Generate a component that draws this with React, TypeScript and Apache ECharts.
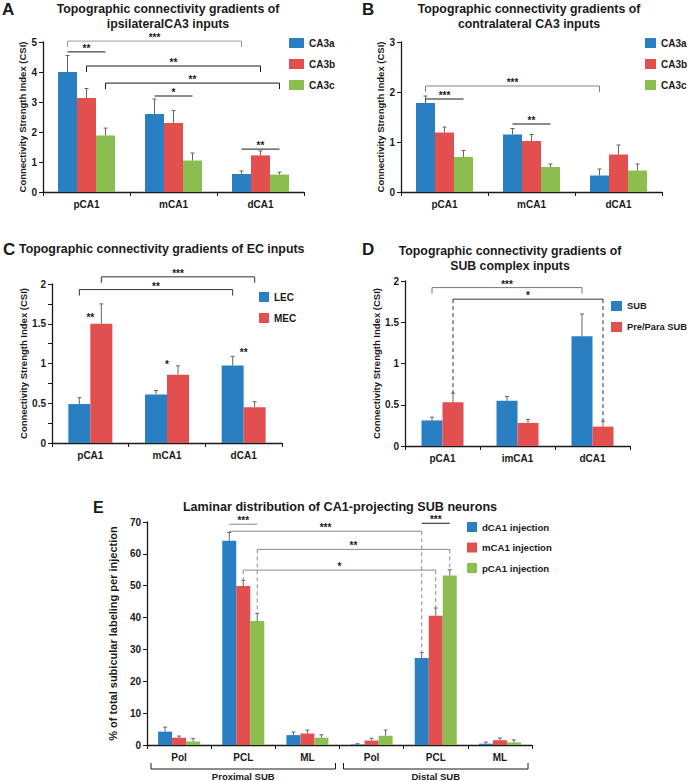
import React, { useEffect, useRef } from 'react';
import * as echarts from 'echarts';

const FONT = '"Liberation Sans", Arial, Helvetica, sans-serif';
const BLUE = '#2a7fc2';
const RED = '#e14f4f';
const GREEN = '#8cbd4f';
const INK = '#1a1a1a';
const ERR = '#666666';

// ---------------- Panel A ----------------
const aCategories = ['pCA1', 'mCA1', 'dCA1'];
const aSeries = ['CA3a', 'CA3b', 'CA3c'];
const aMeans = [
  [4.0, 2.6, 0.6],
  [3.13, 2.3, 1.22],
  [1.88, 1.05, 0.58],
];
const aErrTops = [
  [4.55, 3.1, 0.7],
  [3.45, 2.72, 1.37],
  [2.13, 1.3, 0.66],
];
// [fromCategory, fromSeries, toCategory, toSeries, level, kind] kind: 0 bracket, 1 line, 2 dashed drops
const aBrackets = [
  [0, 0, 2, 0, 5.03, 0],
  [0, 0, 0, 2, 4.67, 1],
  [0, 1, 2, 1, 4.2, 0],
  [0, 2, 2, 2, 3.63, 0],
  [1, 0, 1, 2, 3.2, 1],
  [2, 0, 2, 2, 1.43, 1],
];
const aBracketLabels = ['***', '**', '**', '**', '*', '**'];

// ---------------- Panel B ----------------
const bCategories = ['pCA1', 'mCA1', 'dCA1'];
const bSeries = ['CA3a', 'CA3b', 'CA3c'];
const bMeans = [
  [1.78, 1.15, 0.33],
  [1.19, 1.02, 0.75],
  [0.7, 0.5, 0.43],
];
const bErrTops = [
  [1.92, 1.27, 0.46],
  [1.3, 1.15, 0.94],
  [0.83, 0.56, 0.56],
];
const bBrackets = [
  [0, 0, 2, 0, 2.12, 0],
  [0, 0, 0, 2, 1.86, 1],
  [1, 0, 1, 2, 1.36, 1],
];
const bBracketLabels = ['***', '***', '**'];

// ---------------- Panel C ----------------
const cCategories = ['pCA1', 'mCA1', 'dCA1'];
const cSeries = ['LEC', 'MEC'];
const cMeans = [
  [0.49, 0.61, 0.975],
  [1.5, 0.86, 0.45],
];
const cErrTops = [
  [0.57, 0.66, 1.09],
  [1.75, 0.97, 0.52],
];
const cBrackets = [
  [0, 1, 2, 1, 2.09, 0],
  [0, 0, 2, 0, 1.93, 0],
];
const cBracketLabels = ['***', '**'];
const cStars = [
  [0, 1.58],
  [1, 0.99],
  [2, 1.14],
];
const cStarLabels = ['**', '*', '**'];

// ---------------- Panel D ----------------
const dCategories = ['pCA1', 'imCA1', 'dCA1'];
const dSeries = ['SUB', 'Pre/Para SUB'];
const dMeans = [
  [0.31, 0.55, 1.33],
  [0.53, 0.28, 0.235],
];
const dErrTops = [
  [0.35, 0.6, 1.6],
  [0.64, 0.32, 0.3],
];
const dBrackets = [
  [0, 0, 2, 0, 1.92, 0],
  [0, 1, 2, 1, 1.78, 2],
];
const dBracketLabels = ['***', '*'];

// ---------------- Panel E ----------------
const eCategories = ['Pol', 'PCL', 'ML', 'Pol', 'PCL', 'ML'];
const eSeries = ['dCA1 injection', 'mCA1 injection', 'pCA1 injection'];
const eMeans = [
  [4.2, 64.1, 3.1, 0.15, 27.3, 0.4],
  [2.3, 49.9, 3.6, 1.4, 40.6, 1.5],
  [1.1, 38.9, 2.3, 2.9, 53.2, 0.8],
];
const eErrTops = [
  [5.6, 66.7, 4.1, 0.4, 29.0, 0.9],
  [2.8, 51.7, 4.7, 2.1, 43.0, 2.2],
  [2.0, 41.3, 3.2, 4.7, 55.0, 1.6],
];
const eBrackets = [
  [1, 0, 1, 2, 69.3, 1],
  [1, 0, 4, 0, 67.1, 2],
  [1, 2, 4, 2, 61.4, 2],
  [1, 1, 4, 1, 54.9, 2],
  [4, 0, 4, 2, 69.6, 1],
];
const eBracketLabels = ['***', '***', '**', '*', '***'];
const eGroups = [
  [0, 2],
  [3, 5],
];
const eGroupLabels = ['Proximal SUB', 'Distal SUB'];

// ---------------- styles (kept apart from data) ----------------
const aTones = ['#9a9a9a', INK, INK, INK, INK, INK];
const bTones = ['#808080', INK, INK];
const cTones = ['#333', '#333'];
const dTones = ['#777', '#333'];
const eTones = ['#8a8a8a', '#8a8a8a', '#8a8a8a', '#8a8a8a', INK];

type Panel = {
  categories: string[];
  series: string[];
  colors: string[];
  means: number[][];
  errTops: number[][];
  brackets: number[][];
  bracketLabels: string[];
  tones: string[];
  stars?: number[][];
  starLabels?: string[];
  groups?: number[][];
  groupLabels?: string[];
  yMax: number;
  yInterval: number;
  labelStep: number;
  grid: { left: number; top: number; width: number; height: number };
  barWidth: number;
  yName: string;
  nameGap: number;
  nameSize: number;
  tickSize: number;
  labelSize: number;
};

const CSI = 'Connectivity Strength Index (CSI)';

const panels: Panel[] = [
  {
    categories: aCategories, series: aSeries, colors: [BLUE, RED, GREEN],
    means: aMeans, errTops: aErrTops, brackets: aBrackets, bracketLabels: aBracketLabels, tones: aTones,
    yMax: 5, yInterval: 1, labelStep: 1,
    grid: { left: 43, top: 42, width: 261, height: 150 }, barWidth: 19,
    yName: CSI, nameGap: 15, nameSize: 9.5, tickSize: 10, labelSize: 10,
  },
  {
    categories: bCategories, series: bSeries, colors: [BLUE, RED, GREEN],
    means: bMeans, errTops: bErrTops, brackets: bBrackets, bracketLabels: bBracketLabels, tones: bTones,
    yMax: 3, yInterval: 1, labelStep: 1,
    grid: { left: 401, top: 42, width: 261, height: 150 }, barWidth: 19,
    yName: CSI, nameGap: 14, nameSize: 9.5, tickSize: 10, labelSize: 10,
  },
  {
    categories: cCategories, series: cSeries, colors: [BLUE, RED],
    means: cMeans, errTops: cErrTops, brackets: cBrackets, bracketLabels: cBracketLabels, tones: cTones,
    stars: cStars, starLabels: cStarLabels,
    yMax: 2, yInterval: 0.25, labelStep: 0.5,
    grid: { left: 52, top: 284, width: 230, height: 159 }, barWidth: 22,
    yName: CSI, nameGap: 21, nameSize: 9.5, tickSize: 10, labelSize: 10,
  },
  {
    categories: dCategories, series: dSeries, colors: [BLUE, RED],
    means: dMeans, errTops: dErrTops, brackets: dBrackets, bracketLabels: dBracketLabels, tones: dTones,
    yMax: 2, yInterval: 0.5, labelStep: 0.5,
    grid: { left: 405, top: 281, width: 225, height: 165 }, barWidth: 21,
    yName: CSI, nameGap: 20, nameSize: 9.5, tickSize: 10, labelSize: 10,
  },
  {
    categories: eCategories, series: eSeries, colors: [BLUE, RED, GREEN],
    means: eMeans, errTops: eErrTops, brackets: eBrackets, bracketLabels: eBracketLabels, tones: eTones,
    groups: eGroups, groupLabels: eGroupLabels,
    yMax: 70, yInterval: 10, labelStep: 10,
    grid: { left: 147, top: 522, width: 385, height: 223 }, barWidth: 14,
    yName: '% of total subicular labeling per injection', nameGap: 21, nameSize: 11,
    tickSize: 10, labelSize: 9.5,
  },
];

const legends = [
  { names: aSeries, left: 289, top: 37, itemWidth: 15, itemHeight: 10, itemGap: 9, size: 10 },
  { names: bSeries, left: 645, top: 37, itemWidth: 11, itemHeight: 10, itemGap: 9, size: 10 },
  { names: cSeries, left: 259, top: 291, itemWidth: 10, itemHeight: 10, itemGap: 9, size: 10 },
  { names: dSeries, left: 611, top: 300, itemWidth: 11, itemHeight: 10, itemGap: 9, size: 9.3 },
  { names: eSeries, left: 467, top: 521, itemWidth: 10, itemHeight: 10, itemGap: 8.5, size: 9.6 },
];

function offsetOf(p: Panel, s: number) {
  return (s - (p.series.length - 1) / 2) * p.barWidth;
}

function errorRender(p: Panel) {
  return (_params: any, api: any) => {
    const cat = api.value(0);
    const s = api.value(1);
    const base = api.coord([cat, api.value(2)]);
    const top = api.coord([cat, api.value(3)]);
    const x = base[0] + offsetOf(p, s);
    return {
      type: 'group',
      children: [
        { type: 'line', shape: { x1: x, y1: base[1], x2: x, y2: top[1] }, style: { stroke: ERR, lineWidth: 1 } },
        { type: 'line', shape: { x1: x - 2, y1: top[1], x2: x + 2, y2: top[1] }, style: { stroke: ERR, lineWidth: 1 } },
      ],
    };
  };
}

function bracketRender(p: Panel) {
  return (params: any, api: any) => {
    const fc = api.value(0), fs = api.value(1), tc = api.value(2), ts = api.value(3);
    const level = api.value(4), kind = api.value(5);
    const tone = p.tones[params.dataIndex];
    const a = api.coord([fc, level]);
    const b = api.coord([tc, level]);
    const x1 = a[0] + offsetOf(p, fs);
    const x2 = b[0] + offsetOf(p, ts);
    const y = a[1];
    const children: any[] = [
      { type: 'line', shape: { x1, y1: y, x2, y2: y }, style: { stroke: tone, lineWidth: 1 } },
    ];
    if (kind === 0) {
      children.push({ type: 'line', shape: { x1, y1: y, x2: x1, y2: y + 6 }, style: { stroke: tone, lineWidth: 1 } });
      children.push({ type: 'line', shape: { x1: x2, y1: y, x2, y2: y + 6 }, style: { stroke: tone, lineWidth: 1 } });
    } else if (kind === 2) {
      const ya = api.coord([fc, p.errTops[fs][fc]])[1];
      const yb = api.coord([tc, p.errTops[ts][tc]])[1];
      children.push({ type: 'line', shape: { x1, y1: y, x2: x1, y2: ya }, style: { stroke: tone, lineWidth: 1, lineDash: [4, 3] } });
      children.push({ type: 'line', shape: { x1: x2, y1: y, x2, y2: yb }, style: { stroke: tone, lineWidth: 1, lineDash: [4, 3] } });
    }
    children.push({
      type: 'text',
      x: (x1 + x2) / 2,
      y: y + 1,
      style: {
        text: p.bracketLabels[params.dataIndex], fill: INK, fontSize: 10, fontWeight: 'bold', fontFamily: FONT,
        align: 'center', verticalAlign: 'bottom', lineHeight: 9,
      },
    });
    return { type: 'group', children };
  };
}

function starRender(p: Panel) {
  return (params: any, api: any) => {
    const pt = api.coord([api.value(0), api.value(1)]);
    return {
      type: 'text', x: pt[0], y: pt[1],
      style: {
        text: (p.starLabels || [])[params.dataIndex], fill: INK, fontSize: 10, fontWeight: 'bold', fontFamily: FONT,
        align: 'center', verticalAlign: 'middle', lineHeight: 9,
      },
    };
  };
}

function groupRender(p: Panel) {
  return (params: any, api: any) => {
    const band = api.size([1, 0])[0];
    const l = api.coord([api.value(0), 0]);
    const r = api.coord([api.value(1), 0]);
    const x1 = l[0] - band / 2 + 4;
    const x2 = r[0] + band / 2 - 4;
    const y = l[1] + 24;
    return {
      type: 'group',
      children: [
        { type: 'line', shape: { x1, y1: y, x2, y2: y }, style: { stroke: INK, lineWidth: 1 } },
        { type: 'line', shape: { x1, y1: y - 6, x2: x1, y2: y }, style: { stroke: INK, lineWidth: 1 } },
        { type: 'line', shape: { x1: x2, y1: y - 6, x2, y2: y }, style: { stroke: INK, lineWidth: 1 } },
        {
          type: 'text', x: (x1 + x2) / 2, y: y + 7,
          style: {
            text: (p.groupLabels || [])[params.dataIndex], fill: INK, fontSize: p.labelSize, fontWeight: 'bold',
            fontFamily: FONT, align: 'center', verticalAlign: 'middle', lineHeight: 10,
          },
        },
      ],
    };
  };
}

function isStep(v: number, step: number) {
  const r = v / step;
  return Math.abs(r - Math.round(r)) < 1e-6;
}

function buildOption() {
  const grid: any[] = [];
  const xAxis: any[] = [];
  const yAxis: any[] = [];
  const series: any[] = [];
  panels.forEach((p, i) => {
    grid.push({ ...p.grid, containLabel: false });
    xAxis.push({
      gridIndex: i, type: 'category', data: p.categories,
      axisLine: { show: true, lineStyle: { color: INK, width: 1.3 } },
      axisTick: { show: true, length: 4, lineStyle: { color: INK, width: 1 } },
      axisLabel: { interval: 0, fontFamily: FONT, fontSize: p.tickSize, fontWeight: 'bold', color: INK, margin: 7 },
    });
    yAxis.push({
      gridIndex: i, type: 'value', min: 0, max: p.yMax, interval: p.yInterval,
      axisLine: { show: true, lineStyle: { color: INK, width: 1.3 } },
      axisTick: { show: true, length: 4, lineStyle: { color: INK, width: 1 } },
      splitLine: { show: false },
      axisLabel: {
        fontFamily: FONT, fontSize: p.tickSize, fontWeight: 'bold', color: INK, margin: 6,
        formatter: (v: number) => (isStep(v, p.labelStep) ? String(v) : ''),
      },
      name: p.yName, nameLocation: 'middle', nameGap: p.nameGap,
      nameTextStyle: { fontFamily: FONT, fontSize: p.nameSize, fontWeight: 'bold', color: INK },
    });
    p.series.forEach((name, s) => {
      series.push({
        type: 'bar', name, xAxisIndex: i, yAxisIndex: i, data: p.means[s],
        barWidth: p.barWidth, barGap: '0%', itemStyle: { color: p.colors[s] }, z: 2,
      });
    });
    const errData: number[][] = [];
    p.series.forEach((_n, s) =>
      p.categories.forEach((_c, c) => errData.push([c, s, p.means[s][c], p.errTops[s][c]]))
    );
    series.push({
      type: 'custom', xAxisIndex: i, yAxisIndex: i, data: errData, encode: { x: 0, y: [2, 3] },
      renderItem: errorRender(p), z: 3, silent: true, clip: false,
    });
    series.push({
      type: 'custom', xAxisIndex: i, yAxisIndex: i, data: p.brackets, encode: { x: 0, y: 4 },
      renderItem: bracketRender(p), z: 4, silent: true, clip: false,
    });
    if (p.stars) {
      series.push({
        type: 'custom', xAxisIndex: i, yAxisIndex: i, data: p.stars, encode: { x: 0, y: 1 },
        renderItem: starRender(p), z: 4, silent: true, clip: false,
      });
    }
    if (p.groups) {
      series.push({
        type: 'custom', xAxisIndex: i, yAxisIndex: i, data: p.groups, encode: { x: [0, 1] },
        renderItem: groupRender(p), z: 4, silent: true, clip: false,
      });
    }
  });

  const legend = legends.map((l) => ({
    data: l.names, left: l.left, top: l.top, orient: 'vertical', icon: 'rect',
    itemWidth: l.itemWidth, itemHeight: l.itemHeight, itemGap: l.itemGap, padding: 0,
    selectedMode: false,
    textStyle: { fontFamily: FONT, fontSize: l.size, fontWeight: 'bold', color: INK, lineHeight: 12 },
  }));

  const txt = (text: string, x: number, y: number, size: number, align: string, lh = 15) => ({
    type: 'text', x, y, silent: true,
    style: { text, fontSize: size, fontWeight: 'bold', fontFamily: FONT, fill: INK, align, verticalAlign: 'middle', lineHeight: lh },
  });

  const graphic = [
    txt('A', 2, 9, 17, 'left'),
    txt('Topographic connectivity gradients of\nipsilateralCA3 inputs', 168, 16, 12.3, 'center'),
    txt('B', 362, 9, 17, 'left'),
    txt('Topographic connectivity gradients of\ncontralateral CA3 inputs', 529, 16, 12.3, 'center'),
    txt('C', 3, 249, 17, 'left'),
    txt('Topographic connectivity gradients of EC inputs', 19, 249, 12.4, 'left'),
    txt('D', 362, 249, 17, 'left'),
    txt('Topographic connectivity gradients of\nSUB complex inputs', 510, 258, 12.3, 'center'),
    txt('E', 93, 507, 16, 'left'),
    txt('Laminar distribution of CA1-projecting SUB neurons', 340, 507, 12.6, 'center', 13),
  ];

  return {
    animation: false,
    backgroundColor: '#ffffff',
    textStyle: { fontFamily: FONT },
    grid, xAxis, yAxis, series, legend, graphic,
  };
}

export default function App() {
  const ref = useRef<HTMLDivElement>(null);
  useEffect(() => {
    if (!ref.current) return;
    const chart = echarts.init(ref.current, null, { renderer: 'svg' });
    chart.setOption(buildOption() as any);
    return () => chart.dispose();
  }, []);
  return (
    <div
      ref={ref}
      style={{ position: 'absolute', left: 0, top: 0, width: 688, height: 781, background: '#fff' }}
    />
  );
}
